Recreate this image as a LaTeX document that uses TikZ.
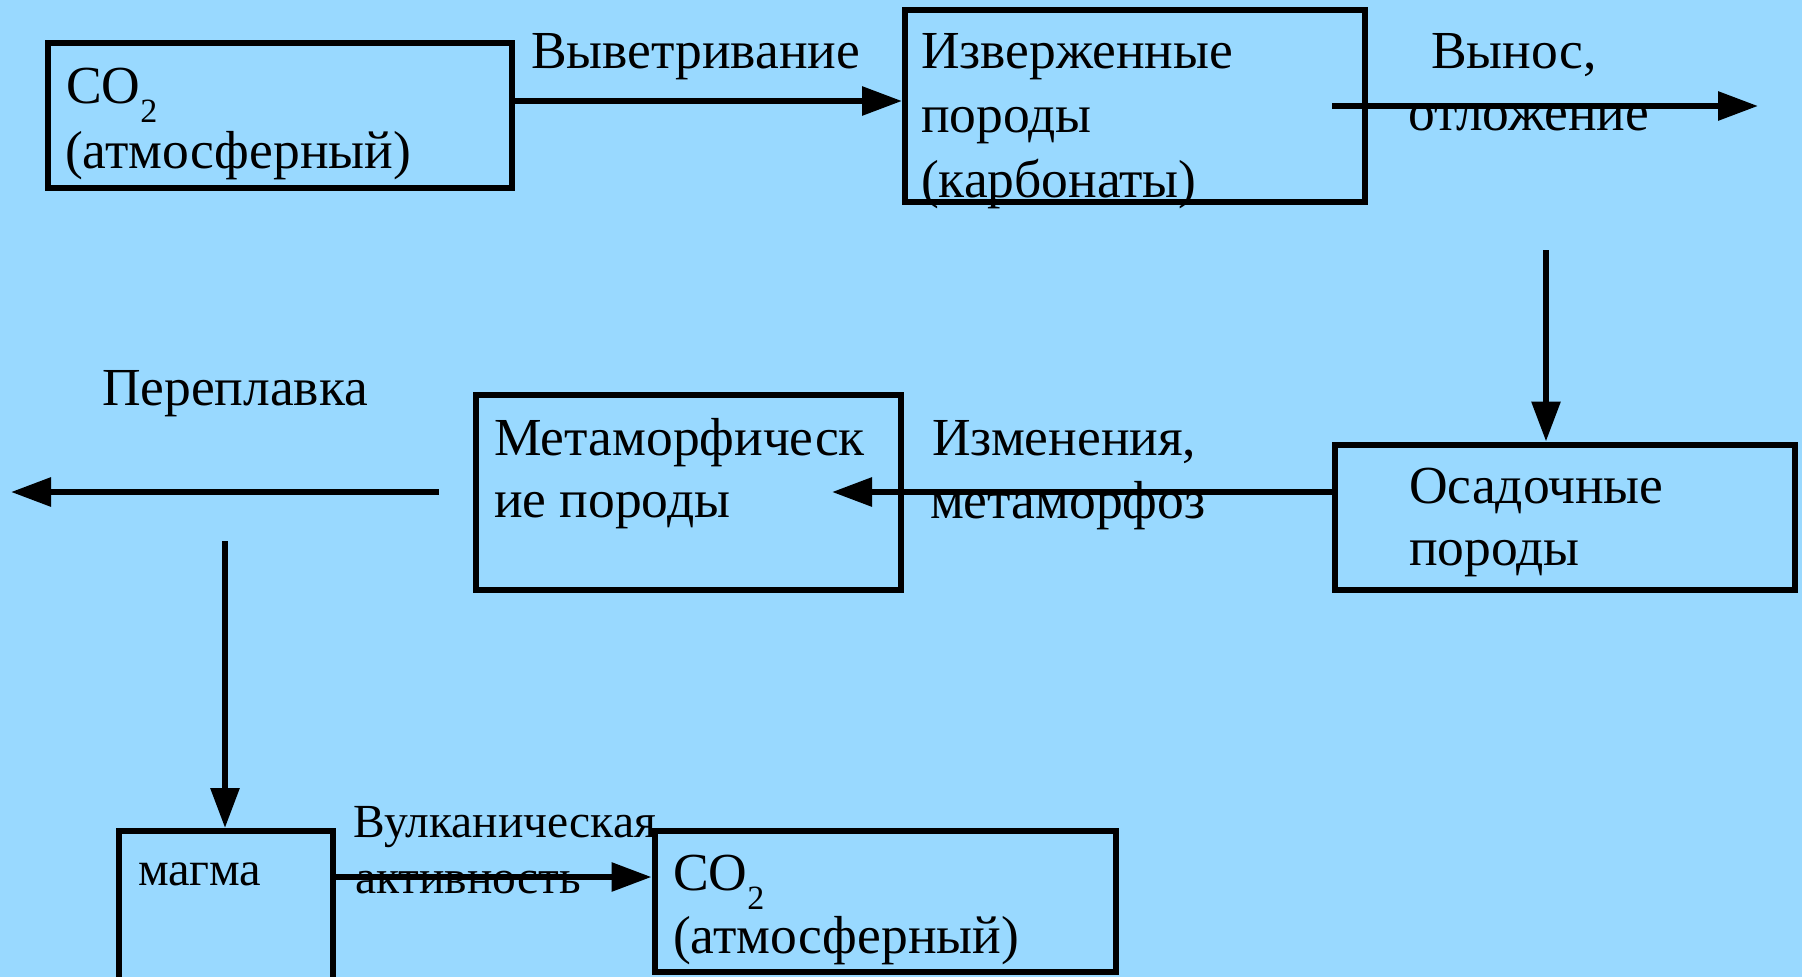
\documentclass[tikz,border=0pt]{standalone}
\usepackage{fontspec}
\setmainfont{Liberation Serif}
\usetikzlibrary{arrows.meta}
\definecolor{bgblue}{RGB}{153,217,255}
\tikzset{
  box/.style={draw=black, line width=6pt, rectangle, inner sep=0pt},
  txt/.style={anchor=base west, inner sep=0pt, outer sep=0pt, font=\fontsize{53.5}{62}\selectfont},
  small/.style={anchor=base west, inner sep=0pt, outer sep=0pt, font=\fontsize{48.5}{56}\selectfont},
  lbl/.style={anchor=base west, inner sep=0pt, outer sep=0pt, font=\fontsize{47.5}{56}\selectfont},
  arr/.style={draw=black, line width=6pt, -{Triangle[length=40pt,width=28pt]}},
}
\newcommand{\subtwo}{\raisebox{-19pt}{\fontsize{34}{34}\selectfont 2}}
\begin{document}
\begin{tikzpicture}[x=1pt,y=-1pt]
\fill[bgblue] (0,0) rectangle (1802,977);
\useasboundingbox (0,0) rectangle (1802,977);
\clip (0,0) rectangle (1802,977);

% texts
\node[txt] (t1a) at (66,103) {CO\subtwo};
\node[txt] (t1b) at (65,168) {(атмосферный)};
\node[txt] (l1) at (531,68) {Выветривание};
\node[txt] (t2a) at (921,68) {Изверженные};
\node[txt] (t2b) at (921,132) {породы};
\node[txt] (t2c) at (921,197) {(карбонаты)};
\node[txt] (l2a) at (1431,68) {Вынос,};
\node[txt] (l2b) at (1408,130) {отложение};
\node[txt] (t3a) at (1409,503) {Осадочные};
\node[txt] (t3b) at (1409,565) {породы};
\node[txt] (l3a) at (932,455) {Изменения,};
\node[txt] (l3b) at (930,518) {метаморфоз};
\node[txt] (t4a) at (494,455) {Метаморфическ};
\node[txt] (t4b) at (494,517) {ие породы};
\node[txt] (l4) at (102,405) {Переплавка};
\node[small] (t5) at (138,885) {магма};
\node[lbl] (l5a) at (353,837) {Вулканическая};
\node[lbl] (l5b) at (355,893) {активность};
\node[txt] (t6a) at (673,890) {CO\subtwo};
\node[txt] (t6b) at (673,953) {(атмосферный)};

% boxes
\node[box, minimum width=463.5pt, minimum height=144.5pt] (b1) at (279.75,115.25) {};
\node[box, minimum width=460pt, minimum height=192.5pt] (b2) at (1135,105.75) {};
\node[box, minimum width=460pt, minimum height=145pt] (b3) at (1565,517) {};
\node[box, minimum width=425pt, minimum height=194.5pt] (b4) at (688.5,492.25) {};
\node[box, minimum width=214pt, minimum height=169pt] (b5) at (226,915.5) {};
\node[box, minimum width=461.5pt, minimum height=141pt] (b6) at (885.25,901.5) {};

% helper coordinates
\coordinate (y1) at (0,101);
\coordinate (o2s) at (1332,106);
\coordinate (o2e) at (1758,106);
\coordinate (d1) at (1546,250);
\coordinate (y3) at (0,492);
\coordinate (m4) at (832,492);
\coordinate (p1) at (439,492);
\coordinate (p2) at (11,492);
\coordinate (d2) at (225,541);
\coordinate (y5) at (0,877);

% connectors
\draw[arr] (b1.east |- y1) -- (b2.west |- y1);
\draw[arr] (o2s) -- (o2e);
\draw[arr] (d1) -- (d1 |- b3.north);
\draw[arr] (b3.west |- y3) -- (m4);
\draw[arr] (p1) -- (p2);
\draw[arr] (d2) -- (d2 |- b5.north);
\draw[arr] (b5.east |- y5) -- (b6.west |- y5);
\end{tikzpicture}
\end{document}
